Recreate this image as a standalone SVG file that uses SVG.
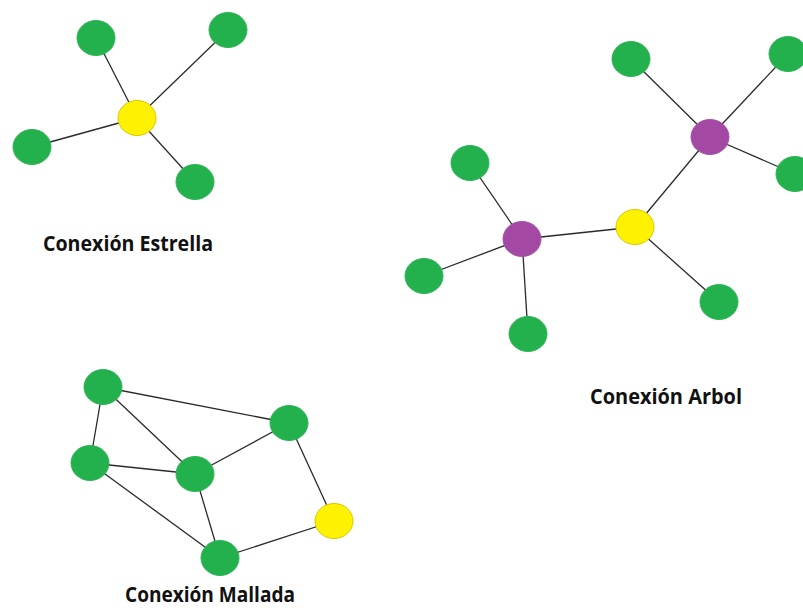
<svg xmlns="http://www.w3.org/2000/svg" width="803" height="608" viewBox="0 0 803 608">
  <style>
    .edge { stroke: #2b2b2b; stroke-width: 1.3; fill: none; }
    .green { fill: #22b14c; stroke: #2fb557; stroke-width: 1; }
    .yellow { fill: #fff200; stroke: #d8c800; stroke-width: 1; }
    .purple { fill: #a349a4; stroke: #a64fa7; stroke-width: 1; }
    .label { font-family: "Open Sans", "Liberation Sans", sans-serif; font-weight: 700; font-size: 20.5px; fill: #111111; }
  </style>
  <rect width="803" height="608" fill="#ffffff"/>

  <!-- connectors -->
  <g id="connectors">
    <!-- star -->
    <line class="edge" x1="137" y1="118" x2="96" y2="38"/>
    <line class="edge" x1="137" y1="118" x2="228" y2="30"/>
    <line class="edge" x1="137" y1="118" x2="32" y2="147"/>
    <line class="edge" x1="137" y1="118" x2="195" y2="182"/>
    <!-- tree -->
    <line class="edge" x1="635" y1="227" x2="522" y2="239"/>
    <line class="edge" x1="635" y1="227" x2="710" y2="137"/>
    <line class="edge" x1="635" y1="227" x2="719" y2="302"/>
    <line class="edge" x1="710" y1="137" x2="631" y2="59"/>
    <line class="edge" x1="710" y1="137" x2="788" y2="54"/>
    <line class="edge" x1="710" y1="137" x2="795" y2="174"/>
    <line class="edge" x1="522" y1="239" x2="470" y2="163"/>
    <line class="edge" x1="522" y1="239" x2="424" y2="276"/>
    <line class="edge" x1="522" y1="239" x2="528" y2="334"/>
    <!-- mesh -->
    <line class="edge" x1="103" y1="387" x2="289" y2="423"/>
    <line class="edge" x1="103" y1="387" x2="90" y2="463"/>
    <line class="edge" x1="103" y1="387" x2="195" y2="474"/>
    <line class="edge" x1="90" y1="463" x2="195" y2="474"/>
    <line class="edge" x1="90" y1="463" x2="220" y2="558"/>
    <line class="edge" x1="195" y1="474" x2="289" y2="423"/>
    <line class="edge" x1="195" y1="474" x2="220" y2="558"/>
    <line class="edge" x1="289" y1="423" x2="334" y2="521"/>
    <line class="edge" x1="334" y1="521" x2="220" y2="558"/>
  </g>

  <!-- star nodes -->
  <g id="star-hub"><ellipse class="yellow" cx="137" cy="118" rx="19" ry="17.5"/></g>
  <g id="star-n1"><ellipse class="green" cx="96" cy="38" rx="19" ry="17.5"/></g>
  <g id="star-n2"><ellipse class="green" cx="228" cy="30" rx="19" ry="17.5"/></g>
  <g id="star-n3"><ellipse class="green" cx="32" cy="147" rx="19" ry="17.5"/></g>
  <g id="star-n4"><ellipse class="green" cx="195" cy="182" rx="19" ry="17.5"/></g>

  <!-- tree nodes -->
  <g id="tree-root"><ellipse class="yellow" cx="635" cy="227" rx="19" ry="17.5"/></g>
  <g id="tree-branch-a"><ellipse class="purple" cx="710" cy="137" rx="19" ry="17.5"/></g>
  <g id="tree-branch-b"><ellipse class="purple" cx="522" cy="239" rx="19" ry="17.5"/></g>
  <g id="tree-a1"><ellipse class="green" cx="631" cy="59" rx="19" ry="17.5"/></g>
  <g id="tree-a2"><ellipse class="green" cx="788" cy="54" rx="19" ry="17.5"/></g>
  <g id="tree-a3"><ellipse class="green" cx="795" cy="174" rx="19" ry="17.5"/></g>
  <g id="tree-b1"><ellipse class="green" cx="470" cy="163" rx="19" ry="17.5"/></g>
  <g id="tree-b2"><ellipse class="green" cx="424" cy="276" rx="19" ry="17.5"/></g>
  <g id="tree-b3"><ellipse class="green" cx="528" cy="334" rx="19" ry="17.5"/></g>
  <g id="tree-r1"><ellipse class="green" cx="719" cy="302" rx="19" ry="17.5"/></g>

  <!-- mesh nodes -->
  <g id="mesh-n1"><ellipse class="green" cx="103" cy="387" rx="19" ry="17.5"/></g>
  <g id="mesh-n2"><ellipse class="green" cx="289" cy="423" rx="19" ry="17.5"/></g>
  <g id="mesh-n3"><ellipse class="green" cx="90" cy="463" rx="19" ry="17.5"/></g>
  <g id="mesh-n4"><ellipse class="green" cx="195" cy="474" rx="19" ry="17.5"/></g>
  <g id="mesh-n5"><ellipse class="yellow" cx="334" cy="521" rx="19" ry="17.5"/></g>
  <g id="mesh-n6"><ellipse class="green" cx="220" cy="558" rx="19" ry="17.5"/></g>

  <!-- captions -->
  <g id="captions">
    <text class="label" x="43" y="251" textLength="170" lengthAdjust="spacingAndGlyphs">Conexión Estrella</text>
    <text class="label" x="590" y="404" textLength="152" lengthAdjust="spacingAndGlyphs">Conexión Arbol</text>
    <text class="label" x="125" y="602" textLength="170" lengthAdjust="spacingAndGlyphs">Conexión Mallada</text>
  </g>
</svg>
